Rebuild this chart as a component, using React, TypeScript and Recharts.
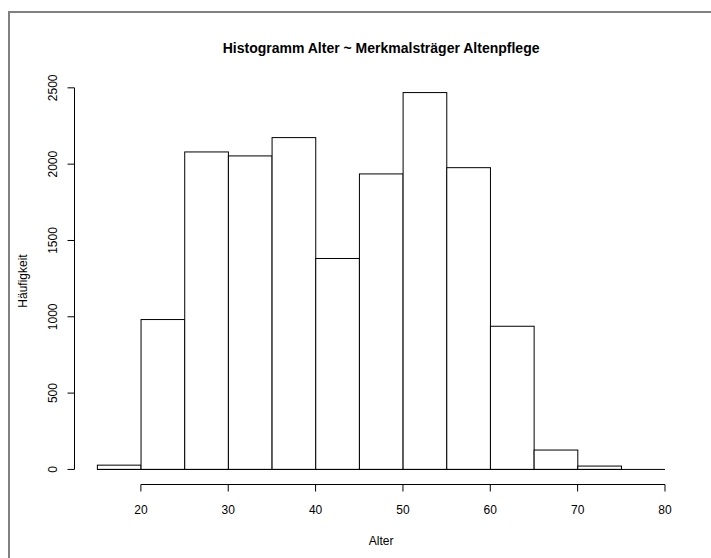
import React from "react";
import { ComposedChart, Bar, XAxis, YAxis, ReferenceLine, Label } from "recharts";

// histogram bins (width 5) and counts
const binStarts = [15, 20, 25, 30, 35, 40, 45, 50, 55, 60, 65, 70, 75];
const counts = [28, 982, 2080, 2054, 2174, 1382, 1936, 2469, 1977, 938, 127, 22, 0];
const xTicks = [20, 30, 40, 50, 60, 70, 80];
const yTicks = [0, 500, 1000, 1500, 2000, 2500];

const title = "Histogramm Alter ~ Merkmalsträger Altenpflege";
const xLabel = "Alter";
const yLabel = "Häufigkeit";

const W = 711;
const H = 558;
const FONT = "'Liberation Sans', Arial, sans-serif";
const BIN = 5;

// R style 4% axis extension
const xMin = binStarts[0];
const xMax = binStarts[binStarts.length - 1] + BIN;
const xExt = (xMax - xMin) * 0.04;
const yMaxVal = Math.max(...counts);
const yExt = yMaxVal * 0.04;
const xDomain = [xMin - xExt, xMax + xExt];
const yDomain = [-yExt, yMaxVal + yExt];

const margin = { top: 77.5, right: 23.3, bottom: 0, left: 0 };
const yAxisW = 74.5;
const xAxisH = 73.5;
const plotW = W - margin.left - margin.right - yAxisW;
const pxPerUnit = plotW / (xDomain[1] - xDomain[0]);
const binPx = BIN * pxPerUnit;

const data = binStarts.map((b, i) => ({ mid: b + BIN / 2, count: counts[i] }));

const XTick = (props: any) => {
  const { x, y, payload } = props;
  return (
    <text x={x} y={y + 22} textAnchor="middle" fontSize={12} fontFamily={FONT} fill="#000">
      {payload.value}
    </text>
  );
};

// rotated labels like R's default las=0
const YTick = (props: any) => {
  const { y, payload } = props;
  const bx = 57;
  return (
    <text x={bx} y={y} transform={`rotate(-90, ${bx}, ${y})`} textAnchor="middle" fontSize={12} fontFamily={FONT} fill="#000">
      {payload.value}
    </text>
  );
};

// full-width bin rectangle centred where the library puts the bar
const BinShape = (props: any) => {
  const { x, y, width, height } = props;
  if (!height || height <= 0) return null;
  const cx = x + width / 2;
  return <rect x={cx - binPx / 2} y={y} width={binPx} height={height} fill="#fff" stroke="#000" strokeWidth={1} />;
};

export default function App() {
  return (
    <div style={{ position: "absolute", left: 0, top: 0, width: W, height: H, overflow: "hidden", background: "#fff" }}>
      <div style={{ position: "absolute", left: 8, top: 11, width: 900, height: 2, background: "#808080" }} />
      <div style={{ position: "absolute", left: 8, top: 11, width: 2, height: 900, background: "#808080" }} />
      <div
        style={{
          position: "absolute", left: margin.left + yAxisW, top: 40, width: plotW, textAlign: "center",
          fontFamily: FONT, fontWeight: "bold", fontSize: 14, lineHeight: "16px", color: "#000",
        }}
      >
        {title}
      </div>
      <div style={{ position: "absolute", left: 0, top: 0 }}>
        <ComposedChart width={W} height={H} data={data} margin={margin} barCategoryGap={0} barGap={0}>
          <XAxis
            dataKey="mid" type="number" domain={xDomain} ticks={xTicks} allowDataOverflow
            height={xAxisH} axisLine={false} tickSize={7} tickMargin={0}
            tickLine={{ stroke: "#000" }} tick={<XTick />}
          >
            <Label
              content={() => (
                <text x={margin.left + yAxisW + plotW / 2} y={545} textAnchor="middle" fontSize={12} fontFamily={FONT} fill="#000">
                  {xLabel}
                </text>
              )}
            />
          </XAxis>
          <YAxis
            type="number" domain={yDomain} ticks={yTicks} allowDataOverflow
            width={yAxisW} axisLine={false} tickSize={7} tickMargin={0}
            tickLine={{ stroke: "#000" }} tick={<YTick />}
          >
            <Label
              content={() => {
                const cy = margin.top + (H - xAxisH - margin.top) / 2;
                return (
                  <text x={27} y={cy} transform={`rotate(-90, 27, ${cy})`} textAnchor="middle" fontSize={12} fontFamily={FONT} fill="#000">
                    {yLabel}
                  </text>
                );
              }}
            />
          </YAxis>
          <Bar dataKey="count" fill="#fff" stroke="#000" shape={<BinShape />} isAnimationActive={false} />
          {/* baseline of the bins, axis lines (only over the tick range, as in R) */}
          <ReferenceLine segment={[{ x: xMin, y: 0 }, { x: xMax, y: 0 }]} stroke="#000" strokeWidth={1} />
          <ReferenceLine segment={[{ x: xTicks[0], y: yDomain[0] }, { x: xTicks[xTicks.length - 1], y: yDomain[0] }]} stroke="#000" strokeWidth={1} ifOverflow="visible" />
          <ReferenceLine segment={[{ x: xDomain[0], y: yTicks[0] }, { x: xDomain[0], y: yTicks[yTicks.length - 1] }]} stroke="#000" strokeWidth={1} ifOverflow="visible" />
        </ComposedChart>
      </div>
    </div>
  );
}
